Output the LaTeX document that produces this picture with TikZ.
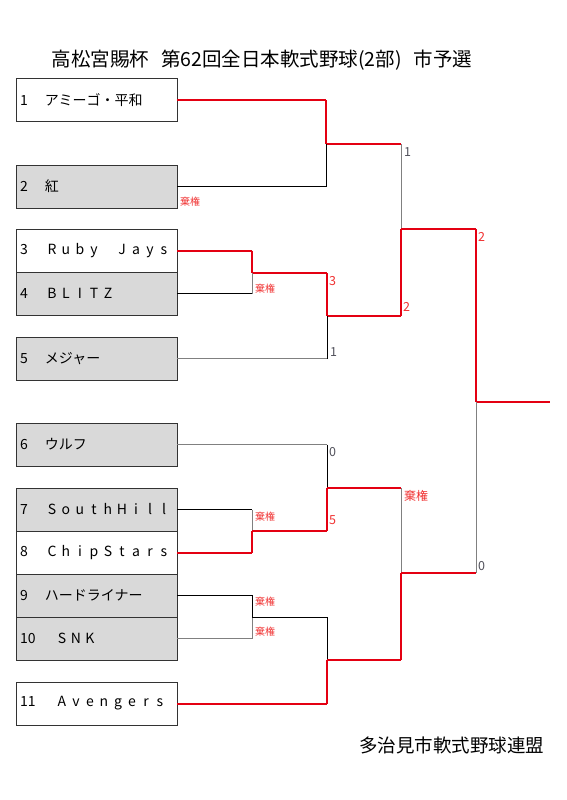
\documentclass[tikz,border=0pt]{standalone}
\usepackage{fontspec}
\setmainfont{Noto Sans CJK JP}
\definecolor{wred}{RGB}{228,0,18}
\definecolor{lred}{RGB}{240,50,50}
\definecolor{lgray}{RGB}{128,128,128}
\definecolor{boxgray}{RGB}{217,217,217}
\definecolor{scoregray}{RGB}{80,80,90}
\newcommand\spc[1]{\spcloop#1\relax}
\def\spcloop#1{\ifx#1\relax\else\makebox[14pt]{#1}\expandafter\spcloop\fi}
\begin{document}
\begin{tikzpicture}[x=1pt,y=-1pt,
  team/.style={draw=black!80,line width=0.8pt,minimum width=161pt,minimum height=43pt,inner sep=0pt,font=\fontsize{14}{14}\selectfont},
  grayteam/.style={team,fill=boxgray},
  whiteteam/.style={team,fill=white},
  win/.style={draw=wred,line width=2pt},
  winv/.style={draw=wred,line width=2.8pt},
  lose/.style={draw=black,line width=0.7pt},
  loseg/.style={draw=lgray,line width=1pt},
  kiken/.style={text=lred,anchor=west,inner sep=0pt,font=\fontsize{10}{10}\selectfont},
  score/.style={anchor=west,inner sep=0pt,font=\fontsize{12.5}{12.5}\selectfont},
]
\useasboundingbox (0,0) rectangle (567,800);

\node[font=\fontsize{19.5}{20}\selectfont] (title) at (262,60) {高松宮賜杯\hspace{12pt}第62回全日本軟式野球(2部)\hspace{12pt}市予選};
\node[font=\fontsize{18.5}{19}\selectfont,anchor=east] (foot) at (548,745) {多治見市軟式野球連盟};

% team boxes
\newcommand\teamtext[2]{\parbox[c]{157pt}{\hspace*{2pt}\makebox[25pt][l]{#1}#2}}
\newcommand\teamtextb[2]{\parbox[c]{157pt}{\hspace*{2pt}\makebox[35pt][l]{#1}#2}}
\node[whiteteam] (b1) at (96.5,100) {\teamtext{1}{アミーゴ・平和}};
\node[grayteam] (b2) at (96.5,186.5) {\teamtext{2}{紅}};
\node[whiteteam] (b3) at (96.5,250.5) {\teamtext{3}{\spc{Ruby~Jays}}};
\node[grayteam] (b4) at (96.5,293.5) {\teamtext{4}{\spc{BLITZ}}};
\node[grayteam] (b5) at (96.5,358.5) {\teamtext{5}{メジャー}};
\node[grayteam] (b6) at (96.5,444.5) {\teamtext{6}{ウルフ}};
\node[grayteam] (b7) at (96.5,509.5) {\teamtext{7}{\spc{SouthHill}}};
\node[whiteteam] (b8) at (96.5,552.5) {\teamtext{8}{\spc{ChipStars}}};
\node[grayteam] (b9) at (96.5,595.5) {\teamtext{9}{ハードライナー}};
\node[grayteam] (b10) at (96.5,638.5) {\teamtextb{10}{\spc{SNK}}};
\node[whiteteam] (b11) at (96.5,703.5) {\teamtextb{11}{\spc{Avengers}}};

% junction coordinates
\coordinate (j12) at (326,144);
\coordinate (j34) at (252,273);
\coordinate (j345) at (327,316);
\coordinate (s1) at (401,229);
\coordinate (fin) at (476,402);
\coordinate (fend) at (550,402);
\coordinate (j78) at (252,531);
\coordinate (j678) at (327,488);
\coordinate (j910) at (252,617);
\coordinate (j91011) at (327,660);
\coordinate (s2) at (401,573);

% block 1-2
\draw[win] (b1.east) -- (326,100);
\draw[winv] (326,100) -- (j12);
\draw[win] (j12) -- (401,144);
\draw[lose] (b2.east) -- (326,186.5) -- (j12);
% block 3-4-5
\draw[win] (b3.east) -- (252,250.5);
\draw[winv] (252,250.5) -- (j34);
\draw[win] (j34) -- (327,273);
\draw[winv] (327,273) -- (j345);
\draw[win] (j345) -- (401,316);
\draw[lose] (b4.east) -- (252,293.5);
\draw[loseg] (252,293.5) -- (j34);
\draw[loseg] (b5.east) -- (327,358.5);
\draw[lose] (327,358.5) -- (j345);
% semi 1
\draw[loseg] (401,144) -- (s1);
\draw[winv] (401,316) -- (s1);
\draw[win] (s1) -- (476,229);
\draw[winv] (476,229) -- (fin);
\draw[winv] (fin) -- (fend);
% block 6-7-8
\draw[loseg] (b6.east) -- (327,444.5);
\draw[lose] (327,444.5) -- (j678);
\draw[lose] (b7.east) -- (252,509.5);
\draw[loseg] (252,509.5) -- (j78);
\draw[win] (b8.east) -- (252,552.5);
\draw[winv] (252,552.5) -- (j78);
\draw[win] (j78) -- (327,531);
\draw[winv] (327,531) -- (j678);
\draw[win] (j678) -- (401,488);
% block 9-10-11
\draw[lose] (b9.east) -- (252,595.5) -- (j910);
\draw[loseg] (b10.east) -- (252,638.5) -- (j910);
\draw[lose] (j910) -- (327,617) -- (j91011);
\draw[win] (b11.east) -- (327,703.5);
\draw[winv] (327,703.5) -- (j91011);
\draw[winv] (j91011) -- (401,660);
\draw[winv] (401,660) -- (s2);
\draw[loseg] (401,488) -- (s2);
\draw[win] (s2) -- (476,573);
\draw[loseg] (476,573) -- (fin);

% labels
\node[kiken] (k2) at (180,202) {棄権};
\node[kiken] (k4) at (255,289) {棄権};
\node[kiken] (k7) at (255,517) {棄権};
\node[kiken] (k9) at (255,602) {棄権};
\node[kiken] (k10) at (255,632) {棄権};
\node[kiken,font=\fontsize{12}{12}\selectfont] (ks) at (404,496) {棄権};
\node[score,text=scoregray] (r1a) at (404,152) {1};
\node[score,text=lred] (r3) at (329,281) {3};
\node[score,text=lred] (r2a) at (403,307) {2};
\node[score,text=scoregray] (r1b) at (330,352) {1};
\node[score,text=lred] (r2b) at (478,237) {2};
\node[score,text=scoregray] (r0a) at (329,452) {0};
\node[score,text=lred] (r5) at (329,520) {5};
\node[score,text=scoregray] (r0b) at (478,566) {0};
\end{tikzpicture}
\end{document}
